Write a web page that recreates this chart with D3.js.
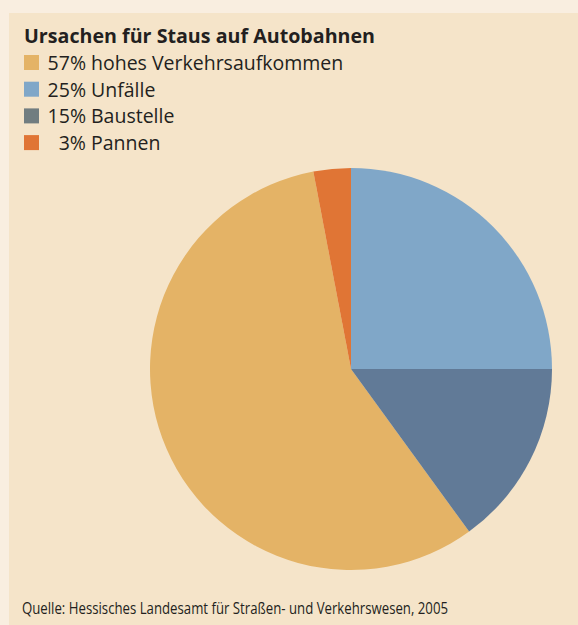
<!DOCTYPE html>
<html>
<head>
    <meta charset="utf-8">
    <title>Ursachen für Staus auf Autobahnen</title>
    <script src="https://d3js.org/d3.v7.min.js"></script>
    <style>
        body {
            margin: 0;
            background-color: #f9eee0;
        }
        svg text {
            font-family: "Open Sans", "Noto Sans", sans-serif;
            fill: #231f20;
        }
    </style>
</head>
<body>
    <svg width="578" height="625"></svg>

    <script>
        // Chart data
        var categories = ["hohes Verkehrsaufkommen", "Unfälle", "Baustelle", "Pannen"];
        var values = [57, 25, 15, 3];
        var sliceColors = ["#e4b366", "#80a7c8", "#617a97", "#e07535"];
        var legendColors = ["#e4b366", "#80a7c8", "#717d80", "#e07535"];
        // order in which the slices go round the pie, clockwise from 12 o'clock
        var pieOrder = [2, 0, 1, 3];

        var width = 578,
            height = 625;

        var svg = d3.select("svg");

        // panel background
        svg.append("rect")
            .attr("x", 9)
            .attr("y", 13)
            .attr("width", width - 9)
            .attr("height", height - 13)
            .attr("fill", "#f5e4c9");

        // title
        svg.append("text")
            .attr("x", 24)
            .attr("y", 43)
            .attr("font-size", 19)
            .attr("font-weight", "bold")
            .attr("textLength", 351)
            .attr("lengthAdjust", "spacingAndGlyphs")
            .text("Ursachen für Staus auf Autobahnen");

        // legend
        var rows = categories.map(function(c, i) {
            return { name: c, value: values[i], color: legendColors[i] };
        });

        var legend = svg.append("g")
            .selectAll("g")
            .data(rows)
            .enter().append("g")
            .attr("transform", function(d, i) { return "translate(24," + (55 + i * 26.7) + ")"; });

        legend.append("rect")
            .attr("width", 15)
            .attr("height", 15)
            .attr("fill", function(d) { return d.color; });

        legend.append("text")
            .attr("x", 62)
            .attr("y", 15)
            .attr("font-size", 19.5)
            .attr("text-anchor", "end")
            .text(function(d) { return d.value + "%"; });

        legend.append("text")
            .attr("x", 67)
            .attr("y", 15)
            .attr("font-size", 19.5)
            .text(function(d) { return d.name; });

        // pie
        var cx = 351,
            cy = 369,
            radius = 201;

        var pie = d3.pie()
            .value(function(d) { return d.value; })
            .sort(function(a, b) { return pieOrder[categories.indexOf(a.name)] - pieOrder[categories.indexOf(b.name)]; });

        var slices = categories.map(function(c, i) {
            return { name: c, value: values[i], color: sliceColors[i] };
        });

        var arc = d3.arc()
            .innerRadius(0)
            .outerRadius(radius);

        svg.append("g")
            .attr("transform", "translate(" + cx + "," + cy + ")")
            .selectAll("path")
            .data(pie(slices))
            .enter().append("path")
            .attr("d", arc)
            .attr("fill", function(d) { return d.data.color; });

        // source
        svg.append("text")
            .attr("x", 22)
            .attr("y", 614)
            .attr("font-size", 15.5)
            .attr("textLength", 426)
            .attr("lengthAdjust", "spacingAndGlyphs")
            .text("Quelle: Hessisches Landesamt für Straßen- und Verkehrswesen, 2005");
    </script>
</body>
</html>
